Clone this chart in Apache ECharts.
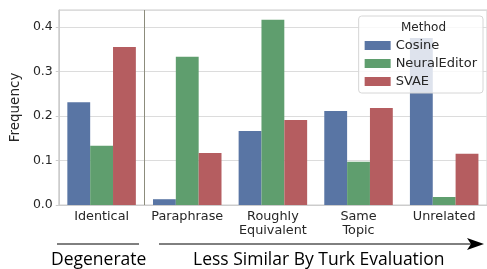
<!DOCTYPE html>
<html>
<head>
<meta charset="utf-8">
<script src="https://cdn.jsdelivr.net/npm/echarts@6/dist/echarts.min.js"></script>
<style>
  html, body { margin: 0; padding: 0; background: #fff; }
  #chart_view { width: 487px; height: 269px; }
</style>
</head>
<body>
<div id="chart_view"></div>
<script>
// data
var categories = ['Identical', 'Paraphrase', 'Roughly\nEquivalent', 'Same\nTopic', 'Unrelated'];
var cosine = [0.231, 0.013, 0.166, 0.211, 0.375];
var neuralEditor = [0.133, 0.333, 0.416, 0.097, 0.018];
var svae = [0.355, 0.117, 0.191, 0.218, 0.115];
var yTicks = [0.0, 0.1, 0.2, 0.3, 0.4];
// boundary between "Identical" and the rest, in category units
var separatorAt = [0.5];

var myChart = echarts.init(document.getElementById('chart_view'));

var font = 'DejaVu Sans';
var textColor = '#262626';

var option = {
    animation: false,
    grid: {
        left: 56, right: -3, top: 10, bottom: 64,
        show: true, borderColor: '#cccccc', borderWidth: 1
    },
    title: {
        text: 'Method',
        left: 396, top: 17,
        textStyle: { fontFamily: font, fontSize: 12, fontWeight: 'normal', color: textColor }
    },
    legend: {
        data: ['Cosine', 'NeuralEditor', 'SVAE'],
        orient: 'vertical',
        right: 4, top: 16,
        icon: 'rect',
        itemWidth: 26, itemHeight: 9, itemGap: 5,
        padding: [23, 6, 5, 6],
        backgroundColor: 'rgba(255,255,255,0.8)',
        borderColor: '#d6d6d6', borderWidth: 1, borderRadius: 3,
        textStyle: { fontFamily: font, fontSize: 13, color: textColor }
    },
    xAxis: [{
        type: 'category',
        data: categories,
        axisLine: { lineStyle: { color: '#cccccc' } },
        axisTick: { show: false },
        axisLabel: { interval: 0, fontFamily: font, fontSize: 12.8, color: textColor, lineHeight: 14, margin: 5 }
    }, {
        type: 'value',
        min: -0.5, max: categories.length - 0.5,
        show: false
    }],
    yAxis: {
        type: 'value',
        min: 0, max: 0.438, interval: 0.1,
        name: 'Frequency',
        nameLocation: 'middle',
        nameGap: 33,
        nameTextStyle: { fontFamily: font, fontSize: 13.5, color: textColor },
        axisLine: { show: true, onZero: false, lineStyle: { color: '#cccccc' } },
        axisTick: { show: true, length: 3, lineStyle: { color: '#cccccc' } },
        axisLabel: {
            fontFamily: font, fontSize: 12.5, color: textColor, margin: 6,
            showMaxLabel: false,
            formatter: function (v) {
                var t = yTicks.find(function (k) { return Math.abs(k - v) < 1e-6; });
                return t === undefined ? '' : t.toFixed(1);
            }
        },
        splitLine: { lineStyle: { color: '#dcdcdc' } }
    },
    series: [
        { name: 'Cosine', type: 'bar', data: cosine, itemStyle: { color: '#5975a4' }, barGap: '0%', barCategoryGap: '20%' },
        { name: 'NeuralEditor', type: 'bar', data: neuralEditor, itemStyle: { color: '#5f9e6e' } },
        { name: 'SVAE', type: 'bar', data: svae, itemStyle: { color: '#b55d60' } },
        {
            name: 'separator', type: 'scatter', xAxisIndex: 1, data: [], silent: true,
            markLine: {
                silent: true, symbol: 'none', label: { show: false },
                lineStyle: { color: '#8c8c7c', width: 1, type: 'solid' },
                data: separatorAt.map(function (x) { return { xAxis: x }; })
            }
        }
    ],
    graphic: [
        { type: 'line', shape: { x1: 57, y1: 244, x2: 139, y2: 244 }, style: { stroke: '#000', lineWidth: 1 } },
        { type: 'line', shape: { x1: 159, y1: 244, x2: 472, y2: 244 }, style: { stroke: '#000', lineWidth: 1 } },
        { type: 'polygon', shape: { points: [[484, 244], [467, 238], [471, 244], [467, 250]] }, style: { fill: '#000' } },
        { type: 'text', left: 51, top: 251, style: { text: 'Degenerate', font: '17.5px "Open Sans"', fill: '#000' } },
        { type: 'text', left: 193, top: 251, style: { text: 'Less Similar By Turk Evaluation', font: '17.5px "Open Sans"', fill: '#000' } }
    ]
};

myChart.setOption(option);
</script>
</body>
</html>
